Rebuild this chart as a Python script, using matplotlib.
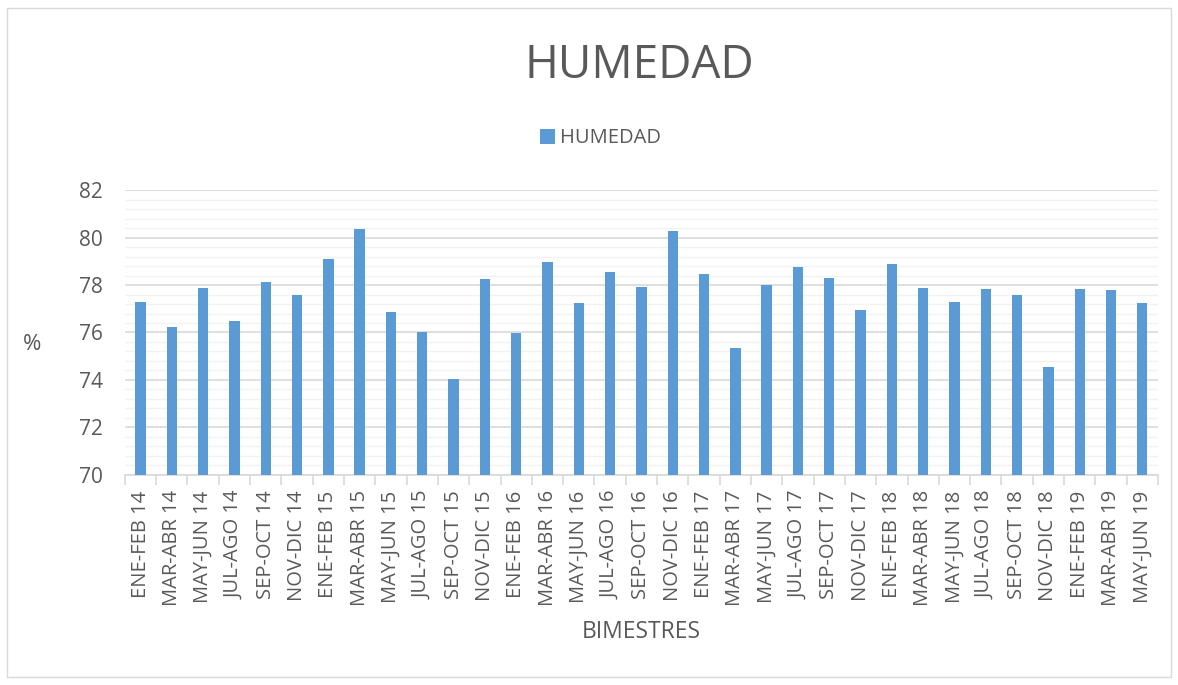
import numpy as np
import matplotlib.pyplot as plt
from matplotlib.ticker import MultipleLocator, FixedLocator
from matplotlib.patches import Rectangle

plt.rcParams['font.family'] = ['Open Sans', 'DejaVu Sans']

bimestres = ['ENE-FEB 14', 'MAR-ABR 14', 'MAY-JUN 14', 'JUL-AGO 14', 'SEP-OCT 14', 'NOV-DIC 14',
             'ENE-FEB 15', 'MAR-ABR 15', 'MAY-JUN 15', 'JUL-AGO 15', 'SEP-OCT 15', 'NOV-DIC 15',
             'ENE-FEB 16', 'MAR-ABR 16', 'MAY-JUN 16', 'JUL-AGO 16', 'SEP-OCT 16', 'NOV-DIC 16',
             'ENE-FEB 17', 'MAR-ABR 17', 'MAY-JUN 17', 'JUL-AGO 17', 'SEP-OCT 17', 'NOV-DIC 17',
             'ENE-FEB 18', 'MAR-ABR 18', 'MAY-JUN 18', 'JUL-AGO 18', 'SEP-OCT 18', 'NOV-DIC 18',
             'ENE-FEB 19', 'MAR-ABR 19', 'MAY-JUN 19']
humedad = [77.27, 76.23, 77.89, 76.48, 78.13, 77.58,
           79.08, 80.37, 76.88, 76.04, 74.03, 78.24,
           75.99, 78.98, 77.23, 78.53, 77.93, 80.29,
           78.48, 75.33, 77.99, 78.74, 78.28, 76.93,
           78.88, 77.89, 77.27, 77.83, 77.58, 74.53,
           77.83, 77.78, 77.23]

gris = '#595959'
azul = '#5b9bd5'

fig = plt.figure(figsize=(11.78, 6.85), dpi=100)
ax = fig.add_axes([0.106, 0.3066, 0.877, 0.416])

x = np.arange(len(bimestres))
ax.bar(x, humedad, width=0.33, color=azul, label='HUMEDAD', zorder=3)

ax.set_xlim(-0.5, len(bimestres) - 0.5)
ax.set_ylim(70, 82)
ax.yaxis.set_major_locator(MultipleLocator(2))
ax.yaxis.set_minor_locator(MultipleLocator(0.4))
ax.grid(axis='y', which='major', color='#d9d9d9', linewidth=1.2, zorder=0)
ax.grid(axis='y', which='minor', color='#f2f2f2', linewidth=1.0, zorder=0)
ax.tick_params(axis='y', which='both', length=0, labelsize=15, colors=gris, pad=16)

ax.set_xticks(x)
ax.set_xticklabels(bimestres, rotation=90, fontsize=14.5, color=gris)
ax.tick_params(axis='x', which='major', length=0, pad=11)
ax.xaxis.set_minor_locator(FixedLocator(np.arange(-0.5, len(bimestres), 1)))
ax.tick_params(axis='x', which='minor', length=7, color='#d9d9d9', width=1.2)

for s in ['top', 'right', 'left']:
    ax.spines[s].set_visible(False)
ax.spines['bottom'].set_color('#d9d9d9')
ax.spines['bottom'].set_linewidth(1.2)

ax.set_xlabel('BIMESTRES', fontsize=16.5, color=gris, labelpad=10)
fig.text(0.027, 0.497, '%', fontsize=16, color=gris, ha='center', va='center')
fig.text(0.5425, 0.904, 'HUMEDAD', fontsize=33, color=gris, ha='center', va='center')

leg = fig.legend(loc='center', bbox_to_anchor=(0.51, 0.798), frameon=False, fontsize=14.5,
                 handlelength=0.75, handleheight=0.75, handletextpad=0.25)
for t in leg.get_texts():
    t.set_color(gris)

fig.patches.append(Rectangle((0.006, 0.012), 0.988, 0.976, transform=fig.transFigure,
                             fill=False, edgecolor='#d9d9d9', linewidth=1))

fig.savefig('out.png', dpi=100)
